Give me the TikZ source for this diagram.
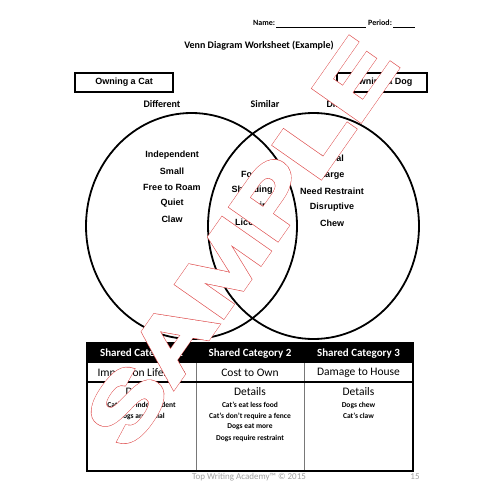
\documentclass[tikz,border=0pt]{standalone}
\usepackage{fontspec}
\setmainfont{Carlito}
\newfontfamily\arialf{Liberation Sans}
\newfontfamily\calibf{Carlito}
\usetikzlibrary{shapes.geometric}
\definecolor{footgray}{RGB}{160,160,160}
\definecolor{divgray}{RGB}{120,120,120}
\tikzset{
  vennword/.style={font=\arialf\bfseries\fontsize{9}{10}\selectfont, inner sep=0pt},
  smalllabel/.style={font=\calibf\bfseries\fontsize{10}{12}\selectfont, inner sep=0pt},
  namefont/.style={font=\calibf\bfseries\fontsize{8}{9}\selectfont, inner sep=0pt},
  titlebox/.style={draw, line width=1.6pt, inner sep=0pt, minimum height=19pt, font=\arialf\bfseries\fontsize{9}{10}\selectfont},
  venncircle/.style={ellipse, draw, line width=1.8pt, minimum width=211pt, minimum height=226pt, inner sep=0pt},
  hdr/.style={font=\calibf\bfseries\fontsize{11}{12}\selectfont, text=white, inner sep=0pt},
  catname/.style={font=\calibf\fontsize{11.5}{13}\selectfont, inner sep=0pt},
  detitem/.style={font=\calibf\bfseries\fontsize{7.5}{9}\selectfont, inner sep=0pt},
  footer/.style={font=\calibf\fontsize{9}{10}\selectfont, text=footgray, inner sep=0pt},
  watermark/.style={transform shape, inner sep=0pt, font=\arialf\bfseries\fontsize{84}{90}\selectfont},
}
\begin{document}
\begin{tikzpicture}[x=1pt,y=-1pt]
\useasboundingbox (0,0) rectangle (500,500);
% header
\node[namefont, anchor=base west] (name) at (253,26) {Name:};
\coordinate (n1) at (276,27); \coordinate (n2) at (366,27);
\draw[line width=0.8pt] (n1) -- (n2);
\node[namefont, anchor=base west] (period) at (368,26) {Period:};
\coordinate (p1) at (393,27); \coordinate (p2) at (415,27);
\draw[line width=0.8pt] (p1) -- (p2);
\node[smalllabel] (title) at (259,46) {Venn Diagram Worksheet (Example)};
% boxes
\node[titlebox, minimum width=98pt] (catbox) at (124,82.5) {Owning a Cat};
\node[titlebox, minimum width=90pt] (dogbox) at (382,82.5) {Owning a Dog};
\node[smalllabel] (diff1) at (162,104) {Different};
\node[smalllabel] (sim) at (265,104) {Similar};
\node[smalllabel] (diff2) at (345,104) {Different};
% circles
\node[venncircle] (catc) at (191.5,226) {};
\node[venncircle] (dogc) at (313.5,226) {};
% left words
\node[vennword] (l1) at (172,155) {Independent};
\node[vennword] (l2) at (172,171) {Small};
\node[vennword] (l3) at (172,187) {Free to Roam};
\node[vennword] (l4) at (172,203) {Quiet};
\node[vennword] (l5) at (172,219) {Claw};
% middle words
\node[vennword] (m1) at (252,174) {Food};
\node[vennword] (m2) at (252,190) {Shedding};
\node[vennword] (m3) at (252,206) {Neutering};
\node[vennword] (m4) at (252,222) {License};
% right words
\node[vennword] (r1) at (332,159) {Loyal};
\node[vennword] (r2) at (332,175) {Large};
\node[vennword] (r3) at (332,191) {Need Restraint};
\node[vennword] (r4) at (332,207) {Disruptive};
\node[vennword] (r5) at (332,223) {Chew};
% table
\fill (87,343) rectangle (413,363);
\draw[divgray, line width=0.8pt] (196,363) -- (196,471);
\draw[divgray, line width=0.8pt] (304,363) -- (304,471);
\draw[line width=1.3pt] (87,382) -- (413,382);
\draw[line width=1.6pt] (87,343) rectangle (413,471);
\node[hdr] (h1) at (141.5,354) {Shared Category 1};
\node[hdr] (h2) at (250,354) {Shared Category 2};
\node[hdr] (h3) at (358.5,354) {Shared Category 3};
\node[catname] (c1) at (141.5,373) {Impact on Lifestyle};
\node[catname] (c2) at (250,373) {Cost to Own};
\node[catname] (c3) at (358.5,373) {Damage to House};
\node[catname] (d1) at (141.5,392) {Details};
\node[catname] (d2) at (250,392) {Details};
\node[catname] (d3) at (358.5,392) {Details};
\node[detitem] (a1) at (141.5,405) {Cat’s are independent};
\node[detitem] (a2) at (141.5,416) {Dogs are social};
\node[detitem] (b1) at (250,405) {Cat’s eat less food};
\node[detitem] (b2) at (250,416) {Cat’s don’t require a fence};
\node[detitem] (b3) at (250,427) {Dogs eat more};
\node[detitem] (b4) at (250,438) {Dogs require restraint};
\node[detitem] (e1) at (358.5,405) {Dogs chew};
\node[detitem] (e2) at (358.5,416) {Cat’s claw};
% footer
\node[footer] (foot) at (249,477) {Top Writing Academy™ © 2015};
\node[footer] (page) at (415,477) {15};
% watermark: red outline of a slightly emboldened, white-filled SAMPLE
\begin{scope}[shift={(241,242)}, rotate=55, xscale=1.35]
\node[watermark] (wm) at (0,0)
  {\color{white}\special{pdf:literal direct 2 Tr 3.6 w 4 M 0.88 0.33 0.33 RG}SAMPLE\special{pdf:literal direct 0 Tr}};
\node[watermark] (wmfill) at (0,0)
  {\color{white}\special{pdf:literal direct 2 Tr 2.6 w 4 M 1 1 1 RG}SAMPLE\special{pdf:literal direct 0 Tr}};
\end{scope}
\end{tikzpicture}
\end{document}
